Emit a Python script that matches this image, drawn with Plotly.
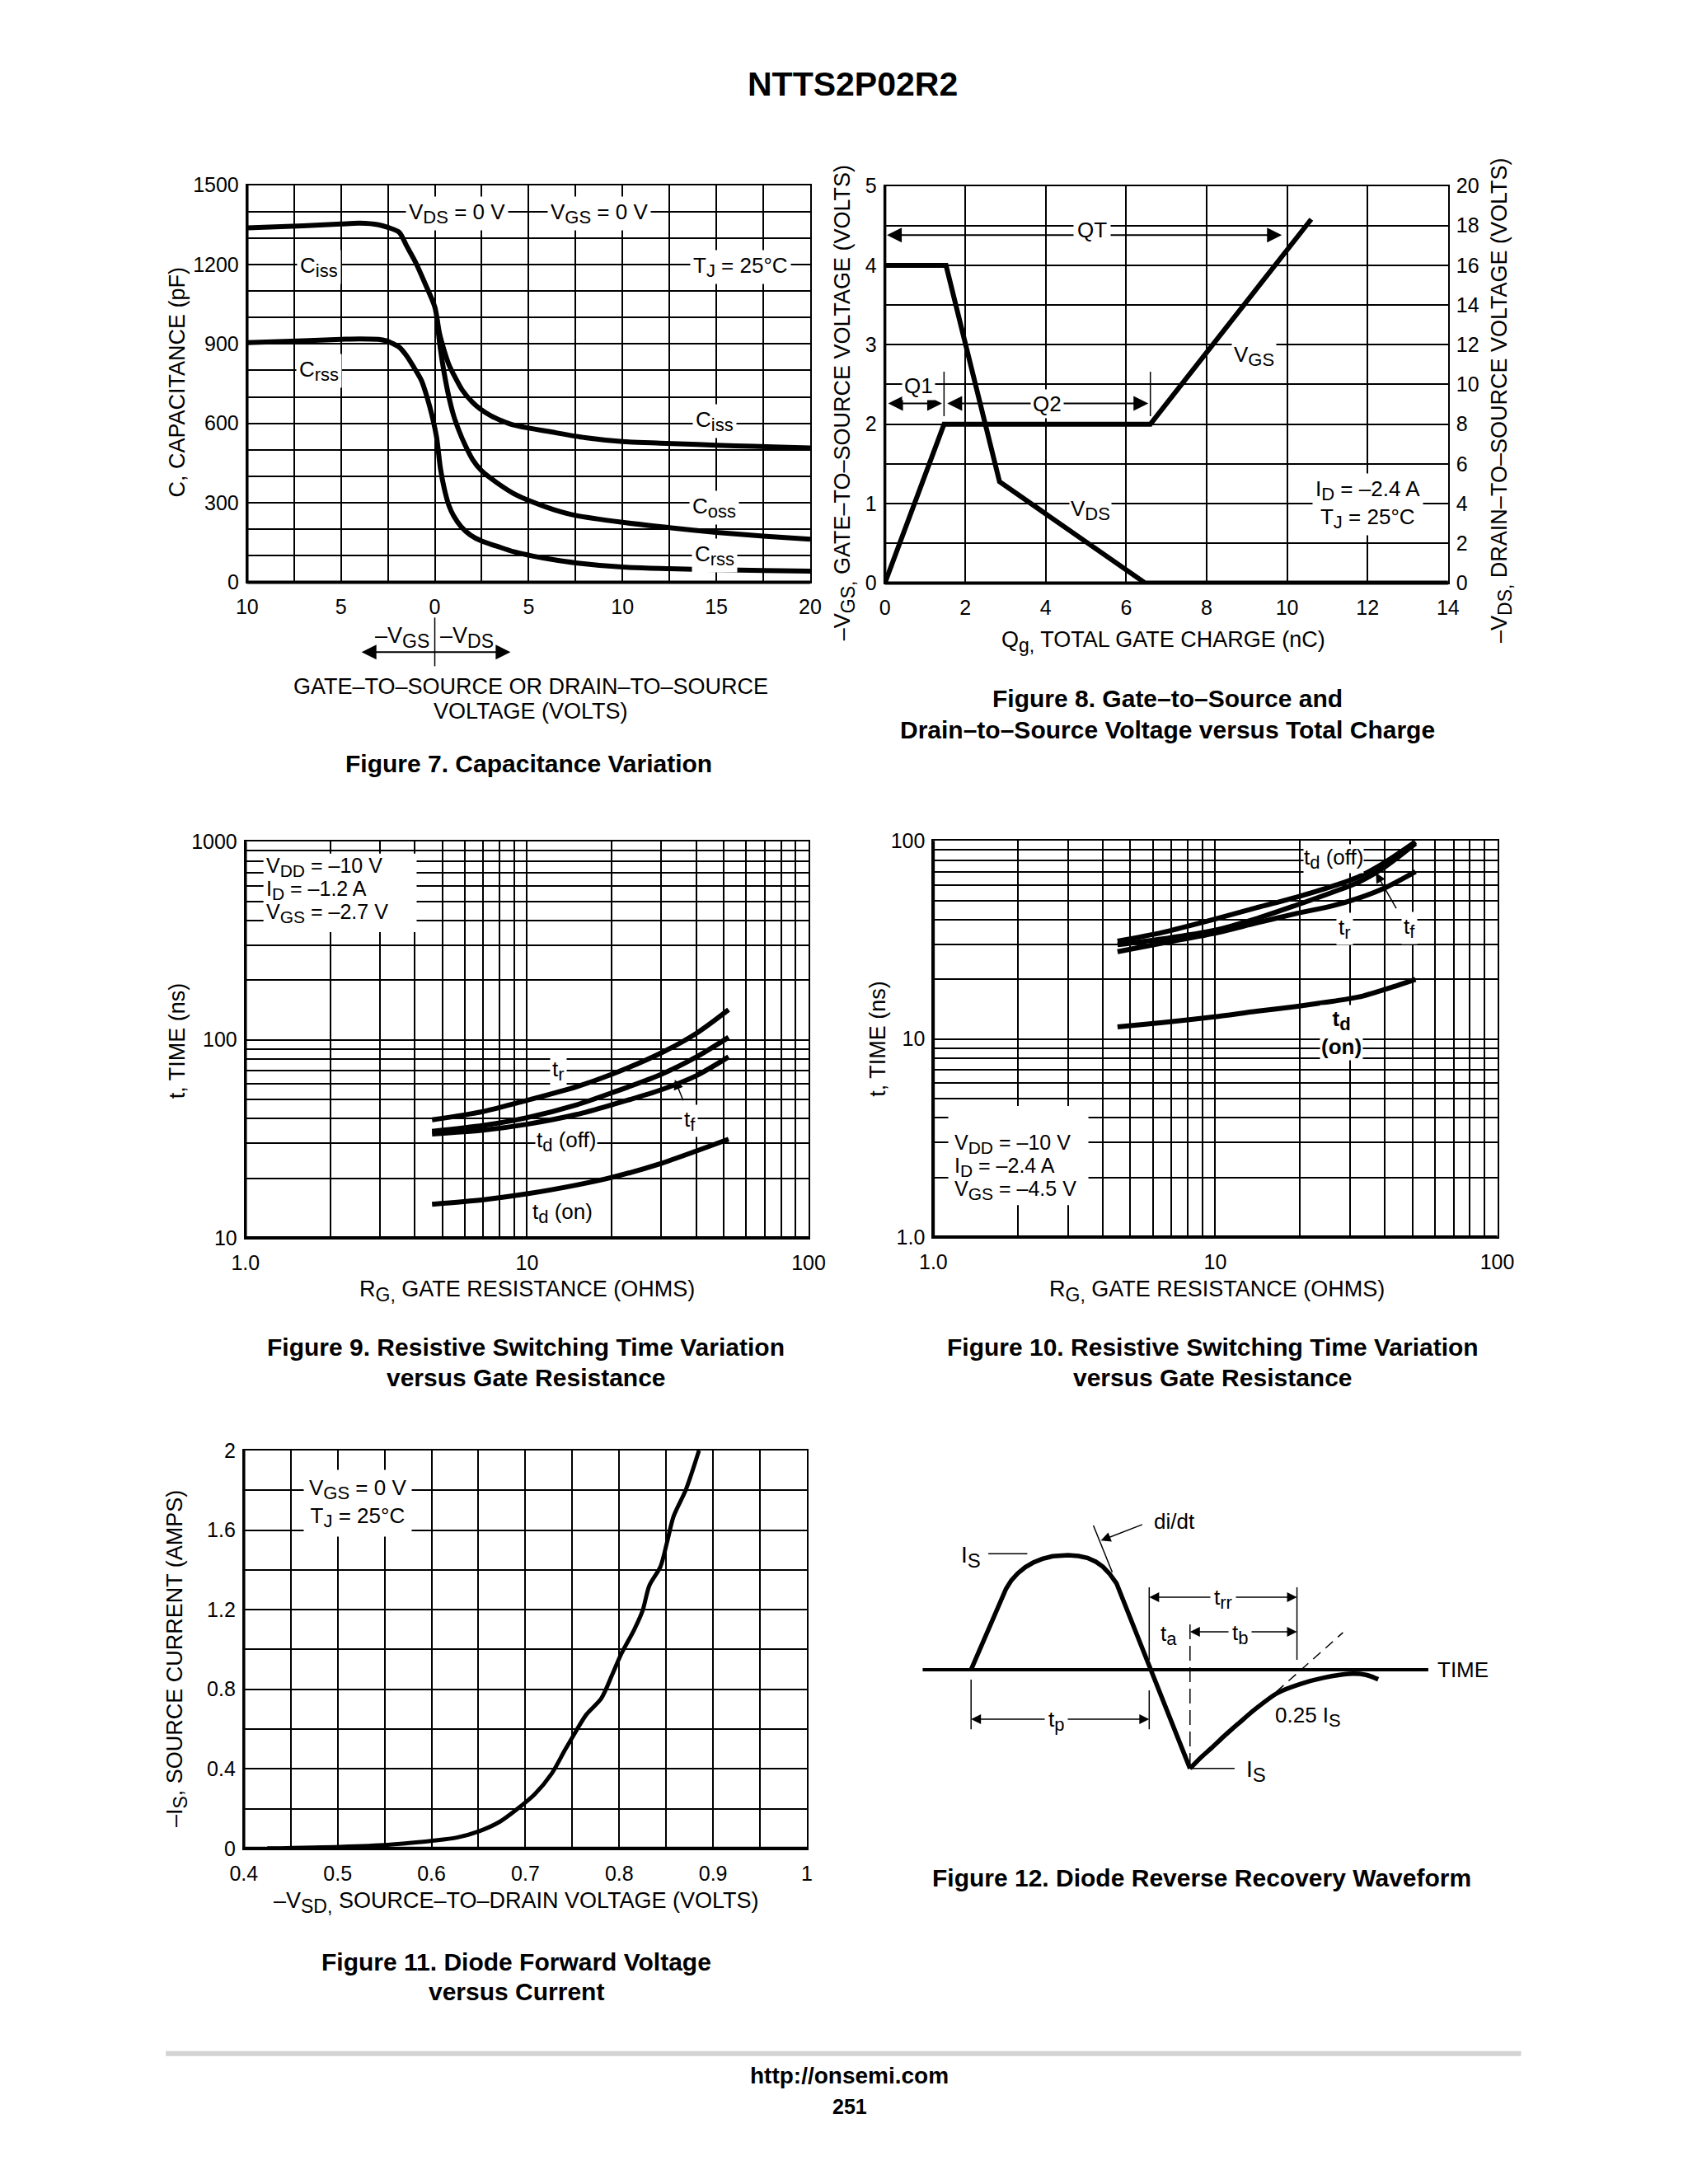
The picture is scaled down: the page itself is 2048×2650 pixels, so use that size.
import math
import plotly.graph_objects as go

W, H, OFF = 2032, 2634, 8


def PX(X):
    return (1.0149 * X - 13.4 - OFF) / W


def PY(Y):
    return 1 - (1.0104 * Y - 12.6 - OFF) / H


FONT = "Liberation Sans, Arial, Helvetica, sans-serif"
K = "black"
TICK = 25
LAB = 27
ANN = 26


def S(t, size=22):
    return "<sub><span style='font-size:%dpx'>%s</span></sub>" % (size, t)


# ================= DATA =================
# Figure 7 - capacitance (x: negative = -VGS side, positive = -VDS side)
f7_ciss_v = [-10, -7, -5, -4, -3, -2.5, -1.9, -1.5, -1.0, -0.5, 0, 0.25, 0.5, 0.76, 1.0, 1.45, 2.0, 2.4, 3.0, 4.0,
             5.0, 6.0, 8.0, 10.0, 12.0, 14.0, 16.0, 18.0, 20.0]
f7_ciss_c = [1338, 1346, 1353, 1356, 1350, 1340, 1322, 1270, 1205, 1125, 1040, 940, 875, 820, 785, 727, 680, 655, 628,
             598, 582, 570, 546, 531, 525, 520, 515, 511, 507]
f7_coss_v = [0.1, 0.3, 0.5, 0.75, 1.0, 1.3, 1.6, 2.0, 2.5, 3.3, 4.2, 5.2, 6.3, 7.5, 10.0, 12.5, 15.0, 17.5, 20.0]
f7_coss_c = [1000, 880, 790, 700, 630, 570, 520, 465, 420, 376, 335, 303, 275, 252, 226, 206, 188, 174, 162]
f7_crss_v = [-10, -7, -5, -4, -3, -2.6, -2.2, -1.9, -1.5, -1.1, -0.7, -0.4, -0.15, 0.1, 0.3, 0.5, 0.75, 1.0, 1.4,
             1.9, 2.5, 3.3, 4.2, 5.2, 6.3, 7.5, 10.0, 12.5, 15.0, 17.5, 20.0]
f7_crss_c = [905, 912, 917, 919, 917, 912, 900, 888, 855, 810, 760, 696, 630, 545, 430, 355, 290, 251, 210, 178, 155,
             136, 115, 99, 85, 73, 57, 51, 47, 44, 42]
f7_x_ticks = [-10, -5, 0, 5, 10, 15, 20]
f7_x_text = ["10", "5", "0", "5", "10", "15", "20"]
f7_x_minor = [-7.5, -2.5, 2.5, 7.5, 12.5, 17.5]
f7_y_ticks = [0, 300, 600, 900, 1200, 1500]
f7_y_text = ["0", "300", "600", "900", "1200", "1500"]
f7_y_minor = [100, 200, 400, 500, 700, 800, 1000, 1100, 1300, 1400]

# Figure 8 - gate charge
f8_vgs_q = [0, 1.47, 6.6, 10.6]
f8_vgs_v = [0, 2.0, 2.0, 4.58]
f8_vds_q = [0, 1.52, 2.85, 6.47, 14.0]
f8_vds_v = [16.0, 16.0, 5.1, 0.0, 0.0]
f8_x_ticks = [0, 2, 4, 6, 8, 10, 12, 14]
f8_x_text = ["0", "2", "4", "6", "8", "10", "12", "14"]
f8_yl_ticks = [0, 1, 2, 3, 4, 5]
f8_yl_text = ["0", "1", "2", "3", "4", "5"]
f8_yl_minor = [0.5, 1.5, 2.5, 3.5, 4.5]
f8_yr_ticks = [0, 2, 4, 6, 8, 10, 12, 14, 16, 18, 20]
f8_yr_text = ["0", "2", "4", "6", "8", "10", "12", "14", "16", "18", "20"]
f8_mark_q = [1.47, 6.6]
f8_mark_v = [2.1, 2.66]

# Figure 9 - switching time, VGS = -2.7 V
f9_rg = [4.6, 7, 10, 15, 20, 30, 40, 52]
f9_tr = [39.5, 43.5, 49.5, 58, 67, 86, 108, 142]
f9_tf = [34.5, 37, 40.5, 47, 54, 67, 82, 103]
f9_tdoff = [33.5, 35, 37.5, 42, 47, 56, 66, 82]
f9_tdon = [14.8, 15.6, 16.7, 18.5, 20.2, 23.8, 27.5, 31.5]

# Figure 10 - switching time, VGS = -4.5 V
f10_rg = [4.5, 6.5, 9.8, 14, 19.4, 26, 32.3, 40, 51.3]
f10_tdoff = [31.2, 34.5, 40, 46, 52, 59, 66, 78, 99]
f10_tf = [29.9, 32, 35.2, 40.5, 47.4, 55, 62, 74, 97]
f10_tr = [27.6, 30.5, 34, 38.5, 43, 47, 51.5, 58, 70]
f10_tdon = [11.5, 12.1, 12.9, 13.8, 14.6, 15.5, 16.3, 17.8, 20]

log_x_ticks = [1, 10, 100]
log_x_text = ["1.0", "10", "100"]
log_x_minor = [2, 3, 4, 5, 6, 7, 8, 9, 20, 30, 40, 50, 60, 70, 80, 90]
f9_y_ticks = [10, 100, 1000]
f9_y_text = ["10", "100", "1000"]
f9_y_minor = [20, 30, 40, 50, 60, 70, 80, 90, 200, 300, 400, 500, 600, 700, 800, 900]
f10_y_ticks = [1, 10, 100]
f10_y_text = ["1.0", "10", "100"]
f10_y_minor = [2, 3, 4, 5, 6, 7, 8, 9, 20, 30, 40, 50, 60, 70, 80, 90]

# Figure 11 - diode forward voltage
f11_v = [0.425, 0.502, 0.553, 0.601, 0.627, 0.651, 0.673, 0.691, 0.710, 0.728, 0.742, 0.754, 0.765, 0.781, 0.793,
         0.802, 0.816, 0.825, 0.832, 0.844, 0.851, 0.858, 0.871, 0.885]
f11_i = [0.0, 0.008, 0.018, 0.039, 0.055, 0.087, 0.135, 0.197, 0.273, 0.376, 0.493, 0.590, 0.673, 0.755, 0.879,
         0.976, 1.100, 1.196, 1.320, 1.417, 1.540, 1.670, 1.803, 2.0]
f11_x_ticks = [0.4, 0.5, 0.6, 0.7, 0.8, 0.9, 1.0]
f11_x_text = ["0.4", "0.5", "0.6", "0.7", "0.8", "0.9", "1"]
f11_x_minor = [0.45, 0.55, 0.65, 0.75, 0.85, 0.95]
f11_y_ticks = [0, 0.4, 0.8, 1.2, 1.6, 2.0]
f11_y_text = ["0", "0.4", "0.8", "1.2", "1.6", "2"]
f11_y_minor = [0.2, 0.6, 1.0, 1.4, 1.8]

# Figure 12 - reverse recovery waveform (schematic units: time, current / IS)
f12_wave_t = [7.9, 12.16, 12.8, 13.57, 14.5, 15.46, 16.6, 17.82, 19.71, 21.0, 22.07, 23.1, 23.96, 24.8, 25.61, 34.57]
f12_wave_i = [0.0, 0.707, 0.78, 0.84, 0.895, 0.935, 0.968, 0.991, 1.0, 0.993, 0.976, 0.943, 0.899, 0.835, 0.755,
              -0.863]
f12_rec_t = [34.57, 36.0, 37.2, 38.8, 40.5, 42.5, 45.2, 48.0, 50.9, 53.9, 56.0, 57.5]
f12_rec_i = [-0.863, -0.76, -0.683, -0.575, -0.468, -0.345, -0.204, -0.125, -0.07, -0.036, -0.045, -0.084]
f12_axis_t = [2.0, 63.6]
f12_tan_t = [34.57, 53.2]
f12_tan_i = [-0.863, 0.324]
f12_didt_t = [22.8, 25.1]
f12_didt_i = [1.259, 0.851]
f12_t_start, f12_t_zero, f12_t_peak, f12_t_end = 7.9, 29.6, 34.57, 47.6

# ================= FIGURE =================
fig = go.Figure()


def line(x, y, xa, ya, w=6, dash=None, shape="linear"):
    fig.add_trace(go.Scatter(x=x, y=y, xaxis=xa, yaxis=ya, mode="lines",
                             line=dict(color=K, width=w, dash=dash, shape=shape, smoothing=0.8),
                             hoverinfo="skip", showlegend=False))


# Fig 7
line(f7_ciss_v, f7_ciss_c, "x", "y", shape="spline")
line(f7_coss_v, f7_coss_c, "x", "y", shape="spline")
line(f7_crss_v, f7_crss_c, "x", "y", shape="spline")
# Fig 8
line(f8_vgs_q, f8_vgs_v, "x2", "y2")
line(f8_vds_q, f8_vds_v, "x2", "y3")
for q in f8_mark_q:
    line([q, q], f8_mark_v, "x2", "y2", w=1.5)
# Fig 9
for s in (f9_tr, f9_tf, f9_tdoff, f9_tdon):
    line(f9_rg, s, "x4", "y4", shape="spline")
# Fig 10
for s in (f10_tdoff, f10_tf, f10_tr, f10_tdon):
    line(f10_rg, s, "x5", "y5", shape="spline")
# Fig 11
line(f11_v, f11_i, "x6", "y6", w=5, shape="spline")
# Fig 12
line(f12_axis_t, [0, 0], "x7", "y7", w=4)
line(f12_wave_t, f12_wave_i, "x7", "y7", w=5.5)
line(f12_rec_t, f12_rec_i, "x7", "y7", w=5.5, shape="spline")
line(f12_tan_t, f12_tan_i, "x7", "y7", w=1.5, dash="12px,8px")
line([f12_t_peak, f12_t_peak], [0.396, -0.863], "x7", "y7", w=1.5, dash="18px,8px")
line(f12_didt_t, f12_didt_i, "x7", "y7", w=1.5)
line([f12_t_start, f12_t_start], [-0.086, -0.52], "x7", "y7", w=1.5)
line([f12_t_zero, f12_t_zero], [-0.18, -0.52], "x7", "y7", w=1.5)
line([f12_t_zero, f12_t_zero], [0.086, 0.72], "x7", "y7", w=1.5)
line([f12_t_end, f12_t_end], [0.086, 0.72], "x7", "y7", w=1.5)
line([10.0, 14.75], [1.012, 1.012], "x7", "y7", w=1.5)
line([f12_t_peak, 40.0], [-0.863, -0.863], "x7", "y7", w=1.5)


def mkax(domain, rng, tickvals, ticktext, minor, anchor, type_="linear", showgrid=True, side=None,
         overlaying=None, standoff=3, mirror=True, showline=True):
    d = dict(domain=domain, range=rng, type=type_, anchor=anchor, tickmode="array", tickvals=tickvals,
             ticktext=ticktext, showline=showline, linecolor=K, linewidth=2, mirror=mirror, ticks="",
             showgrid=showgrid, gridcolor=K, gridwidth=2, zeroline=False,
             tickfont=dict(family=FONT, size=TICK, color=K), fixedrange=True, ticklabelstandoff=standoff)
    if minor:
        d["minor"] = dict(tickmode="array", tickvals=minor, showgrid=True, gridcolor=K, gridwidth=2, ticks="")
    if side:
        d["side"] = side
    if overlaying:
        d["overlaying"] = overlaying
    return d


D7x, D7y = [PX(297), PX(983)], [PY(705), PY(223)]
D8x, D8y = [PX(1074), PX(1760)], [PY(706), PY(224)]
D9x, D9y = [PX(295), PX(981)], [PY(1501), PY(1020)]
D10x, D10y = [PX(1133), PX(1820)], [PY(1500), PY(1019)]
D11x, D11y = [PX(293), PX(979)], [PY(2242), PY(1759)]
D12x, D12y = [PX(1100), PX(1800)], [PY(2170), PY(1830)]

layout_axes = dict(
    xaxis=mkax(D7x, [-10, 20], f7_x_ticks, f7_x_text, f7_x_minor, "y", standoff=7),
    yaxis=mkax(D7y, [0, 1500], f7_y_ticks, f7_y_text, f7_y_minor, "x"),
    xaxis2=mkax(D8x, [0, 14], f8_x_ticks, f8_x_text, None, "y2", standoff=7),
    yaxis2=mkax(D8y, [0, 5], f8_yl_ticks, f8_yl_text, f8_yl_minor, "x2"),
    yaxis3=mkax(D8y, [0, 20], f8_yr_ticks, f8_yr_text, None, "x2", showgrid=False, side="right",
                overlaying="y2", mirror=False, showline=False, standoff=9),
    xaxis4=mkax(D9x, [0, 2], log_x_ticks, log_x_text, log_x_minor, "y4", type_="log", standoff=7),
    yaxis4=mkax(D9y, [1, 3], f9_y_ticks, f9_y_text, f9_y_minor, "x4", type_="log"),
    xaxis5=mkax(D10x, [0, 2], log_x_ticks, log_x_text, log_x_minor, "y5", type_="log", standoff=7),
    yaxis5=mkax(D10y, [0, 2], f10_y_ticks, f10_y_text, f10_y_minor, "x5", type_="log"),
    xaxis6=mkax(D11x, [0.4, 1.0], f11_x_ticks, f11_x_text, f11_x_minor, "y6", standoff=7),
    yaxis6=mkax(D11y, [0, 2], f11_y_ticks, f11_y_text, f11_y_minor, "x6"),
    xaxis7=dict(domain=D12x, range=[0, 70], visible=False, anchor="y7", fixedrange=True),
    yaxis7=dict(domain=D12y, range=[-1.043, 1.403], visible=False, anchor="x7", fixedrange=True),
)

arrows = []
texts = []


def T(x, y, text, xref="paper", yref="paper", size=ANN, bg=None, xa="center", ya="middle", angle=0, pad=1):
    d = dict(x=x, y=y, xref=xref, yref=yref, text=text, showarrow=False,
             font=dict(family=FONT, size=size, color=K), xanchor=xa, yanchor=ya, textangle=angle, borderpad=pad)
    if bg:
        d["bgcolor"] = bg
    texts.append(d)


def A(x0, y0, x1, y1, xref, yref, both=False, w=2, size=1.8):
    arrows.append(dict(x=x1, y=y1, ax=x0, ay=y0, xref=xref, yref=yref, axref=xref, ayref=yref, text="",
                       showarrow=True, arrowhead=2, arrowsize=size, arrowwidth=w, arrowcolor=K,
                       arrowside="end+start" if both else "end", standoff=0, startstandoff=0))


WH = "white"
L10 = math.log10
# ---- page text ----
T(PX(1035), PY(100), "<b>NTTS2P02R2</b>", size=41)
T(PX(1031), PY(2518), "<b>http://onsemi.com</b>", size=28)
T(PX(1031), PY(2555), "<b>251</b>", size=25)

# ---- Fig 7 ----
T(PX(212), PY(462), "C, CAPACITANCE (pF)", size=LAB, angle=-90)
T(PX(643), PY(832), "GATE–TO–SOURCE OR DRAIN–TO–SOURCE", size=LAB)
T(PX(643), PY(862), "VOLTAGE (VOLTS)", size=LAB)
T(PX(640), PY(925), "<b>Figure 7. Capacitance Variation</b>", size=30)
T(-0.2, PY(772), "–V" + S("GS", 23), xref="x", xa="right", size=LAB)
T(0.2, PY(772), "–V" + S("DS", 23), xref="x", xa="left", size=LAB)
arrows.append(dict(x=-3.9, y=PY(790), ax=4.1, ay=0, xref="x", yref="paper", axref="x", ayref="pixel", text="",
                   showarrow=True, arrowhead=2, arrowsize=1.8, arrowwidth=2, arrowcolor=K, arrowside="end+start",
                   standoff=0, startstandoff=0))
T(1.2, 1392, "V" + S("DS") + " = 0 V", xref="x", yref="y", bg=WH, pad=3)
T(8.75, 1392, "V" + S("GS") + " = 0 V", xref="x", yref="y", bg=WH, pad=3)
T(-6.18, 1190, "C" + S("iss"), xref="x", yref="y", bg=WH, pad=3)
T(-6.18, 797, "C" + S("rss"), xref="x", yref="y", bg=WH, pad=3)
T(16.3, 1190, "T" + S("J") + " = 25°C", xref="x", yref="y", bg=WH, pad=3)
T(14.9, 607, "C" + S("iss"), xref="x", yref="y", bg=WH, pad=3)
T(14.9, 280, "C" + S("oss"), xref="x", yref="y", bg=WH, pad=3)
T(14.9, 102, "C" + S("rss"), xref="x", yref="y", bg=WH, pad=3)

# ---- Fig 8 ----
T(PX(1025), PY(487), "–V" + S("GS,", 23) + " GATE–TO–SOURCE VOLTAGE (VOLTS)", size=LAB, angle=-90)
T(PX(1825), PY(485), "–V" + S("DS,", 23) + " DRAIN–TO–SOURCE VOLTAGE (VOLTS)", size=LAB, angle=-90)
T(PX(1413), PY(777), "Q" + S("g,", 23) + " TOTAL GATE CHARGE (nC)", size=LAB)
T(PX(1418), PY(846), "<b>Figure 8. Gate–to–Source and</b>", size=30)
T(PX(1418), PY(884), "<b>Drain–to–Source Voltage versus Total Charge</b>", size=30)
A(9.9, 4.38, 0.05, 4.38, "x2", "y2", both=True)
A(0.05, 2.26, 1.42, 2.26, "x2", "y2", both=True)
A(1.52, 2.26, 6.55, 2.26, "x2", "y2", both=True)
T(5.15, 4.45, "QT", xref="x2", yref="y2", bg=WH, pad=4)
T(0.83, 2.48, "Q1", xref="x2", yref="y2", bg=WH, pad=2)
T(4.04, 2.26, "Q2", xref="x2", yref="y2", bg=WH, pad=2)
T(9.18, 2.86, "V" + S("GS"), xref="x2", yref="y2", bg=WH, pad=2)
T(5.12, 0.92, "V" + S("DS"), xref="x2", yref="y2", bg=WH, pad=1)
T(12.0, 0.99, "I" + S("D") + " = –2.4 A<br>T" + S("J") + " = 25°C", xref="x2", yref="y2", bg=WH, pad=3)

# ---- Fig 9 ----
T(PX(212), PY(1262), "t, TIME (ns)", size=LAB, angle=-90)
T(PX(638), PY(1565), "R" + S("G,", 23) + " GATE RESISTANCE (OHMS)", size=LAB)
T(PX(637), PY(1633), "<b>Figure 9. Resistive Switching Time Variation</b>", size=30)
T(PX(637), PY(1670), "<b>versus Gate Resistance</b>", size=30)
T(L10(1.17), 2.872, "V" + S("DD", 21) + " = –10 V", xref="x4", yref="y4", xa="left", size=25)
T(L10(1.17), 2.755, "I" + S("D", 21) + " = –1.2 A", xref="x4", yref="y4", xa="left", size=25)
T(L10(1.17), 2.638, "V" + S("GS", 21) + " = –2.7 V", xref="x4", yref="y4", xa="left", size=25)
A(L10(36.0), L10(48.7), L10(33.5), L10(63), "x4", "y4", w=1.5, size=1.6)
T(L10(12.9), L10(70), "t" + S("r"), xref="x4", yref="y4", bg=WH, pad=2)
T(L10(38.0), L10(39), "t" + S("f"), xref="x4", yref="y4", bg=WH, pad=2)
T(L10(13.8), L10(30.6), "t" + S("d") + " (off)", xref="x4", yref="y4", bg=WH, pad=1)
T(L10(13.4), L10(13.3), "t" + S("d") + " (on)", xref="x4", yref="y4", bg=WH, pad=1)

# ---- Fig 10 ----
T(PX(1066), PY(1259), "t, TIME (ns)", size=LAB, angle=-90)
T(PX(1479), PY(1565), "R" + S("G,", 23) + " GATE RESISTANCE (OHMS)", size=LAB)
T(PX(1474), PY(1633), "<b>Figure 10. Resistive Switching Time Variation</b>", size=30)
T(PX(1474), PY(1670), "<b>versus Gate Resistance</b>", size=30)
A(L10(44.1), L10(45), L10(37.1), L10(69), "x5", "y5", w=1.5, size=1.6)
T(L10(26.3), L10(81), "t" + S("d") + " (off)", xref="x5", yref="y5", bg=WH, pad=0)
T(L10(28.7), L10(36), "t" + S("r"), xref="x5", yref="y5", bg=WH, pad=2)
T(L10(48.8), L10(36.5), "t" + S("f"), xref="x5", yref="y5", bg=WH, pad=2)
T(L10(28), 1.03, "<b>t" + S("d") + "<br>(on)</b>", xref="x5", yref="y5", bg=WH, pad=1)
T(L10(1.17), 0.471, "V" + S("DD", 21) + " = –10 V", xref="x5", yref="y5", xa="left", size=25)
T(L10(1.17), 0.353, "I" + S("D", 21) + " = –2.4 A", xref="x5", yref="y5", xa="left", size=25)
T(L10(1.17), 0.236, "V" + S("GS", 21) + " = –4.5 V", xref="x5", yref="y5", xa="left", size=25)

# ---- Fig 11 ----
T(PX(212), PY(2012), "–I" + S("S", 23) + ", SOURCE CURRENT (AMPS)", size=LAB, angle=-90)
T(PX(625), PY(2308), "–V" + S("SD,", 23) + " SOURCE–TO–DRAIN VOLTAGE (VOLTS)", size=LAB)
T(PX(625), PY(2380), "<b>Figure 11. Diode Forward Voltage</b>", size=30)
T(PX(625), PY(2416), "<b>versus Current</b>", size=30)
T(0.521, 1.735, "V" + S("GS") + " = 0 V<br>T" + S("J") + " = 25°C", xref="x6", yref="y6", bg=WH, pad=6)

# ---- Fig 12 ----
T(PX(1460), PY(2278), "<b>Figure 12. Diode Reverse Recovery Waveform</b>", size=30)
A(28.9, 1.271, 23.7, 1.127, "x7", "y7", w=1.5, size=1.6)
A(18.3, -0.432, f12_t_start, -0.432, "x7", "y7", w=1.5, size=1.6)
A(18.3, -0.432, f12_t_zero, -0.432, "x7", "y7", w=1.5, size=1.6)
A(38.6, 0.633, f12_t_zero, 0.633, "x7", "y7", w=1.5, size=1.6)
A(38.6, 0.633, f12_t_end, 0.633, "x7", "y7", w=1.5, size=1.6)
A(40.7, 0.331, f12_t_peak, 0.331, "x7", "y7", w=1.5, size=1.6)
A(40.7, 0.331, f12_t_end, 0.331, "x7", "y7", w=1.5, size=1.6)
T(32.7, 1.295, "di/dt", xref="x7", yref="y7")
T(7.9, 0.986, "I" + S("S", 24), xref="x7", yref="y7", size=28)
T(42.6, -0.885, "I" + S("S", 24), xref="x7", yref="y7", size=28)
T(18.3, -0.45, "t" + S("p"), xref="x7", yref="y7", bg=WH, pad=4)
T(38.6, 0.62, "t" + S("rr"), xref="x7", yref="y7", bg=WH, pad=4)
T(32.0, 0.30, "t" + S("a"), xref="x7", yref="y7")
T(40.7, 0.31, "t" + S("b"), xref="x7", yref="y7", bg=WH, pad=4)
T(48.9, -0.41, "0.25 I" + S("S"), xref="x7", yref="y7")
T(67.8, 0.0, "TIME", xref="x7", yref="y7")

# ---- shapes ----
shapes = []
for xr, yr in (("x", "y"), ("x2", "y2"), ("x4", "y4"), ("x5", "y5"), ("x6", "y6")):
    shapes.append(dict(type="line", xref=xr + " domain", yref=yr + " domain", x0=0, x1=1, y0=0, y1=0,
                       line=dict(color=K, width=4)))
    shapes.append(dict(type="line", xref=xr + " domain", yref=yr + " domain", x0=0, x1=0, y0=0, y1=1,
                       line=dict(color=K, width=3.5)))
# white boxes behind the condition texts of Fig 9 and Fig 10
shapes.append(dict(type="rect", xref="x4 domain", yref="y4 domain", x0=0.032, x1=0.304, y0=0.772, y1=0.970,
                   fillcolor=WH, line=dict(width=0), layer="above"))
shapes.append(dict(type="rect", xref="x5 domain", yref="y5 domain", x0=0.0265, x1=0.275, y0=0.081, y1=0.331,
                   fillcolor=WH, line=dict(width=0), layer="above"))
shapes.append(dict(type="line", xref="x", yref="paper", x0=0, x1=0, y0=PY(748), y1=PY(807),
                   line=dict(color=K, width=1.5)))
shapes.append(dict(type="line", xref="paper", yref="paper", x0=PX(198), x1=PX(1849), y0=PY(2491), y1=PY(2491),
                   line=dict(color="#d3d3d3", width=6)))

fig.update_layout(
    width=W, height=H, margin=dict(l=0, r=0, t=0, b=0, pad=0),
    paper_bgcolor="white", plot_bgcolor="white", showlegend=False,
    font=dict(family=FONT, color=K),
    annotations=arrows + texts, shapes=shapes,
    **layout_axes,
)

fig.write_html("out.html")
